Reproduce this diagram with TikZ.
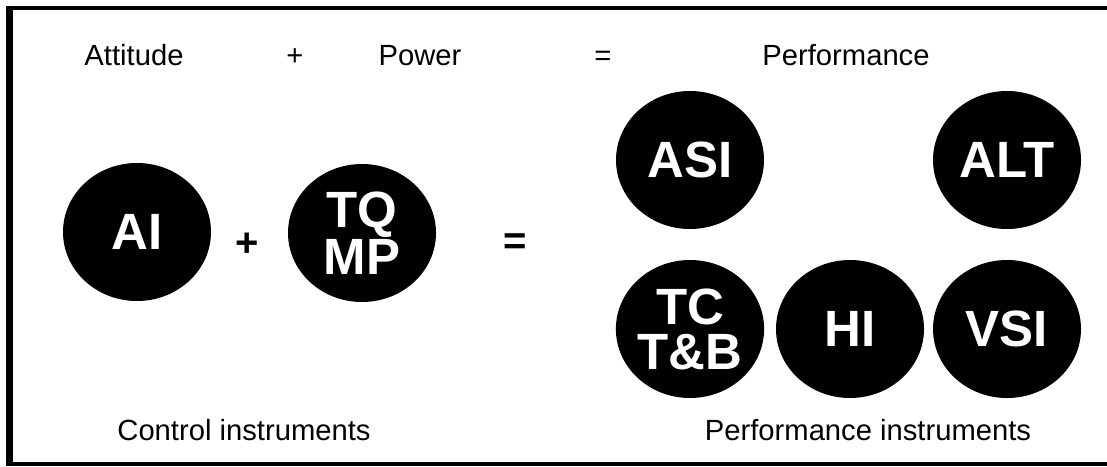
\documentclass[tikz,border=0pt]{standalone}
\usepackage{fontspec}
\setmainfont{Liberation Sans}
\usetikzlibrary{shapes.geometric}
\definecolor{ink}{HTML}{000000}
\definecolor{paper}{HTML}{FFFFFF}
\tikzset{
  lbl/.style={font=\fontsize{14.6}{17}\selectfont,text=ink,inner sep=0pt,anchor=base},
  sign/.style={font=\fontsize{20}{22}\selectfont\bfseries,text=ink,inner sep=0pt},
  instr/.style={ellipse,fill=ink,minimum width=74pt,minimum height=69pt,inner sep=0pt,align=center,text=paper,font=\fontsize{25.5}{22.5}\selectfont\bfseries},
}
\begin{document}
\begin{tikzpicture}[x=0.5pt,y=-0.5pt]
  \useasboundingbox (0,0) rectangle (1107,466);
  \fill[paper] (0,0) rectangle (1107,466);
  % frame
  \fill[ink] (6,6) rectangle (13,466);
  \fill[ink] (6,6) rectangle (1107,10);
  \fill[ink] (6,462) rectangle (1107,466);
  % equation in words
  \node[lbl] (att) at (134,65) {Attitude};
  \node[lbl] (pl1) at (295,65) {+};
  \node[lbl] (pow) at (420,65) {Power};
  \node[lbl] (eq1) at (603,65) {=};
  \node[lbl] (perf) at (846,65) {Performance};
  % control instruments
  \node[instr] (ai) at (137,232) {AI};
  \node[sign] (pl2) at (247,245) {+};
  \node[instr] (tq) at (362,233) {TQ\\MP};
  \node[sign] (eq2) at (515,244) {=};
  % performance instruments
  \node[instr] (asi) at (690,160) {ASI};
  \node[instr] (alt) at (1007,160) {ALT};
  \node[instr] (tc) at (690,329) {TC\\T\&B};
  \node[instr] (hi) at (850,329) {HI};
  \node[instr] (vsi) at (1007,329) {VSI};
  % captions
  \node[lbl] (ctl) at (244,440) {Control instruments};
  \node[lbl] (prf) at (868,440) {Performance instruments};
\end{tikzpicture}
\end{document}
